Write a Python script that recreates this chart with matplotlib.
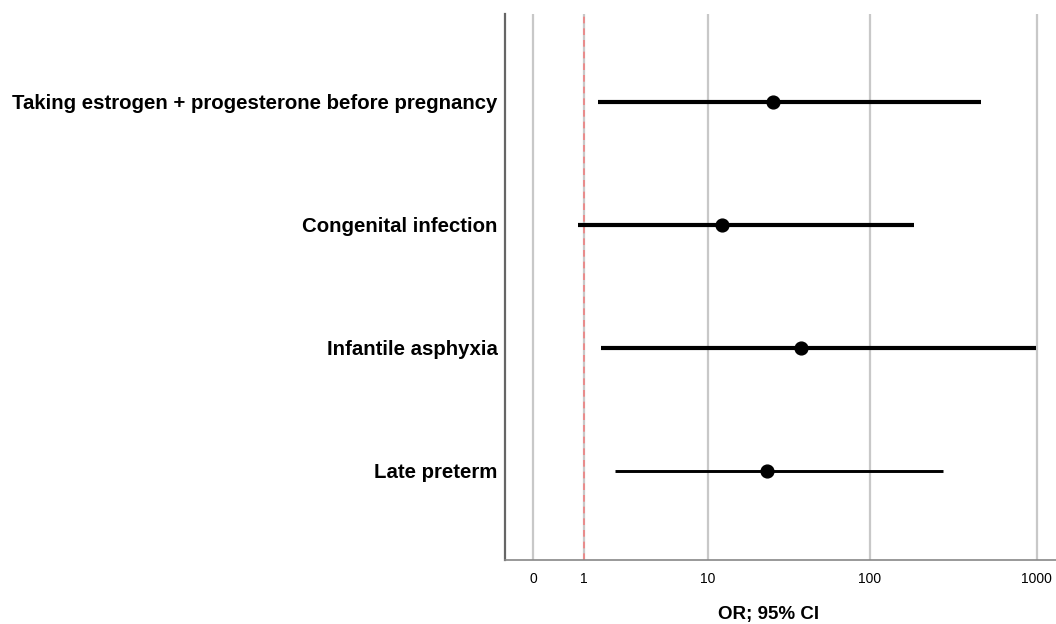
import matplotlib
matplotlib.use("Agg")
import matplotlib.pyplot as plt
import numpy as np

plt.rcParams["font.family"] = ["Liberation Sans", "DejaVu Sans"]

# Odds ratios with 95% CI, top to bottom as drawn
labels = [
    "Taking estrogen + progesterone before pregnancy",
    "Congenital infection",
    "Infantile asphyxia",
    "Late preterm",
]
or_est = [25.7, 12.4, 38.4, 23.8]
ci_low = [1.42, 0.84, 1.54, 2.06]
ci_high = [466, 184, 987, 274]
line_w = [3.0, 3.0, 3.0, 2.1]

tick_vals = [0, 1, 10, 100, 1000]
tick_labels = ["0", "1", "10", "100", "1000"]


def fwd(x):
    return np.log10(np.clip(np.asarray(x, dtype=float) + 1.0, 1e-9, None))


def inv(y):
    return 10.0 ** np.asarray(y, dtype=float) - 1.0


fig = plt.figure(figsize=(10.56, 6.24), dpi=100)
ax = fig.add_axes([0.478, 0.1026, 0.522, 0.875])
ax.set_xscale("function", functions=(fwd, inv))

ypos = np.arange(len(labels), 0, -1)
for y, est, lo, hi, lw in zip(ypos, or_est, ci_low, ci_high, line_w):
    ax.plot([lo, hi], [y, y], color="black", lw=lw, solid_capstyle="butt", zorder=3)
    ax.plot(est, y, "o", color="black", ms=9.2, zorder=4)

ax.axvline(1, color="#f08080", lw=1.2, ls=(0, (4, 3)), zorder=2)

ax.set_xlim(inv(-0.169), inv(3.115))
ax.set_ylim(0.276, 4.715)
ax.set_xticks(tick_vals)
ax.set_xticklabels(tick_labels, fontsize=10)
ax.set_yticks(ypos)
ax.set_yticklabels(labels, fontsize=14.7, fontweight="bold")
ax.tick_params(axis="both", length=0)
ax.tick_params(axis="x", pad=9)
ax.tick_params(axis="y", pad=5)
ax.grid(True, axis="x", color="#c8c8c8", lw=1.6, zorder=1)
ax.set_axisbelow(True)

for side in ("top", "right"):
    ax.spines[side].set_visible(False)
ax.spines["left"].set_color("#666666")
ax.spines["left"].set_linewidth(1.6)
ax.spines["bottom"].set_color("#888888")
ax.spines["bottom"].set_linewidth(1.2)

ax.set_xlabel("OR; 95% CI", fontsize=13.5, fontweight="bold")
ax.xaxis.set_label_coords(0.479, -0.085)

fig.savefig("out.png", dpi=100, facecolor="white")
